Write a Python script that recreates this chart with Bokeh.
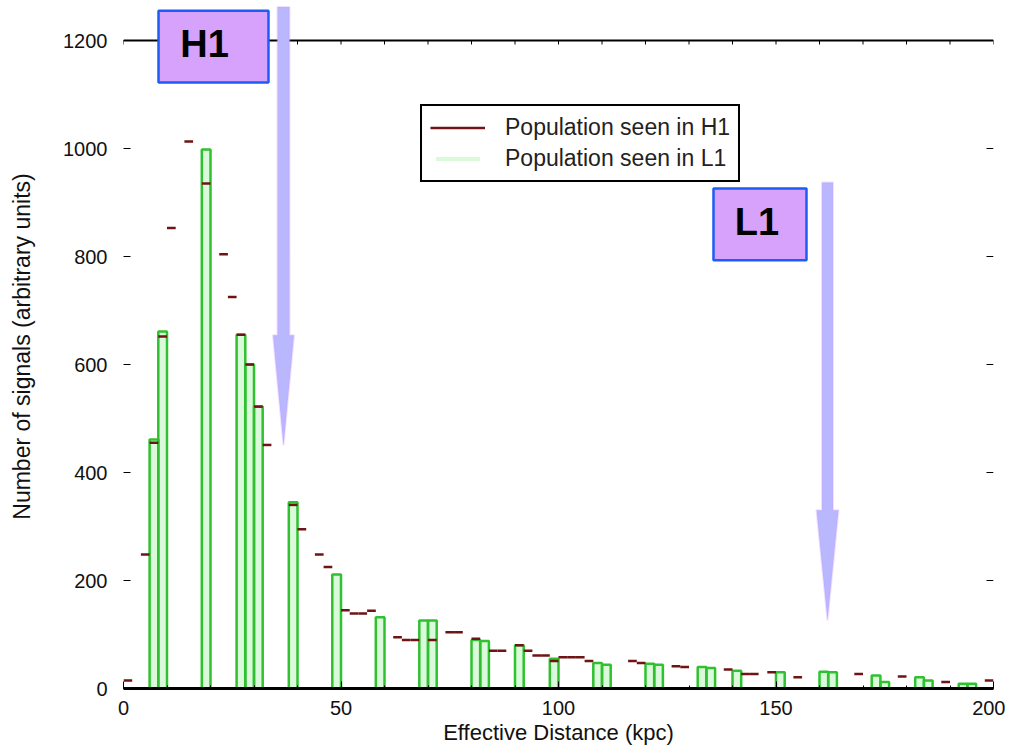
from bokeh.plotting import figure
from bokeh.models import (Range1d, FixedTicker, Legend, LegendItem, Span,
                          Label, BoxAnnotation, PolyAnnotation, ColumnDataSource)
from bokeh.embed import file_html
from bokeh.resources import INLINE

# ---------------- data ----------------
BIN_WIDTH = 2.0  # kpc

# L1 population (green bars): bin left edge (kpc) and count
l1_bin_left = [6, 8, 18, 26, 28, 30, 38, 48, 58, 68, 70, 80, 82, 90, 98,
               108, 110, 120, 122, 132, 134, 140, 150, 160, 162, 172, 174,
               182, 184, 192, 194]
l1_counts = [461, 661, 998, 655, 600, 522, 345, 211, 132, 126, 126, 90, 88, 80, 55,
             47, 44, 46, 44, 40, 38, 33, 30, 31, 30, 24, 12,
             21, 15, 9, 9]

# H1 population (dark red step tops): bin left edge (kpc) and count
h1_bin_left = [0, 4, 6, 8, 10, 14, 18, 22, 24, 26, 28, 30, 32, 38, 40, 44, 46,
               50, 52, 54, 56, 62, 64, 66, 70, 74, 76, 80, 84, 86, 90, 92, 94,
               96, 98, 100, 102, 104, 106, 116, 118, 126, 128, 138, 142, 144,
               148, 154, 168, 178, 188, 198]
h1_counts = [15, 248, 455, 652, 853, 1013, 935, 804, 725, 655, 600, 522, 451, 340, 295, 248, 225,
             145, 139, 139, 144, 95, 90, 90, 90, 104, 104, 92, 70, 70, 80, 70, 61,
             61, 51, 58, 58, 58, 51, 51, 47, 41, 40, 35, 27, 27,
             30, 21, 27, 22, 12, 15]

x_ticks = [0, 50, 100, 150, 200]
x_minor_ticks = [0, 10, 20, 30, 40, 50, 60, 70, 80, 90, 100, 110, 120, 130, 140,
                 150, 160, 170, 180, 190, 200]
y_ticks = [0, 200, 400, 600, 800, 1000, 1200]
legend_labels = ["Population seen in H1", "Population seen in L1"]
x_label = "Effective Distance (kpc)"
y_label = "Number of signals (arbitrary units)"
callouts = ["H1", "L1"]

# ---------------- styling / placement ----------------
FONT = "Liberation Sans"
GREEN = "#2fc12f"
GREEN_FILL = "#d2f7d2"
H1_COLOR = "#6e1414"
BOX_FILL = "#d7a2fc"
BOX_LINE = "#1d5cf5"
ARROW_FILL = "#b9b8ff"
ARROW_LINE = "#d29cff"
X_MAX, Y_TOP = 200, 1200
PX_PER_X, PX_PER_Y = 4.35, 0.54      # screen pixels per data unit
FRAME_H = 684                         # frame height in pixels

l1_src = ColumnDataSource(dict(
    left=l1_bin_left,
    right=[b + BIN_WIDTH for b in l1_bin_left],
    top=l1_counts,
    bottom=[0] * len(l1_counts),
))
h1_src = ColumnDataSource(dict(
    x0=h1_bin_left,
    x1=[b + BIN_WIDTH for b in h1_bin_left],
    y=h1_counts,
))

p = figure(width=1005, height=750,
           x_range=Range1d(0, X_MAX), y_range=Range1d(0, FRAME_H / PX_PER_Y),
           output_backend="svg", toolbar_location=None,
           min_border_left=123, min_border_right=12,
           min_border_top=4, min_border_bottom=62,
           x_axis_label=x_label, y_axis_label=y_label)
p.outline_line_color = None
p.grid.visible = False
p.background_fill_color = "white"
p.border_fill_color = "white"

# bottom axis
xa = p.xaxis[0]
xa.ticker = FixedTicker(ticks=x_ticks, minor_ticks=x_minor_ticks)
xa.axis_line_color = "black"
xa.axis_line_width = 3
xa.major_tick_in = 7
xa.major_tick_out = 0
xa.minor_tick_in = 3
xa.minor_tick_out = 0
xa.major_tick_line_color = "black"
xa.minor_tick_line_color = "black"
xa.major_label_standoff = 12
xa.major_label_text_font = FONT
xa.major_label_text_font_size = "20px"
xa.major_label_text_color = "#111111"
xa.axis_label_standoff = 2
xa.axis_label_text_font = FONT
xa.axis_label_text_font_size = "22px"
xa.axis_label_text_font_style = "normal"
xa.axis_label_text_color = "#111111"

# left axis
ya = p.yaxis[0]
ya.ticker = FixedTicker(ticks=y_ticks, minor_ticks=[])
ya.axis_line_color = None
ya.major_tick_in = 7
ya.major_tick_out = 0
ya.major_tick_line_color = "black"
ya.minor_tick_line_color = None
ya.major_label_standoff = 16
ya.major_label_text_font = FONT
ya.major_label_text_font_size = "20px"
ya.major_label_text_color = "#111111"
ya.axis_label_standoff = 25
ya.axis_label_text_font = FONT
ya.axis_label_text_font_size = "23px"
ya.axis_label_text_font_style = "normal"
ya.axis_label_text_color = "#111111"

# top frame line at 1200 with small ticks, right-side ticks
p.add_layout(Span(location=Y_TOP, dimension="width", line_color="black", line_width=2))
p.segment(x0=x_minor_ticks, x1=x_minor_ticks, y0=[Y_TOP] * len(x_minor_ticks),
          y1=[Y_TOP - 4 / PX_PER_Y] * len(x_minor_ticks), line_color="black", line_width=1)
p.segment(x0=[X_MAX - 7 / PX_PER_X] * len(y_ticks), x1=[X_MAX] * len(y_ticks),
          y0=y_ticks, y1=y_ticks, line_color="black", line_width=1)

# glyphs: L1 fill (used for legend sample), L1 outlines, H1 step tops
r_l1_fill = p.quad(left="left", right="right", top="top", bottom="bottom", source=l1_src,
                   fill_color=GREEN_FILL, fill_alpha=0.8, line_color=None)
p.quad(left="left", right="right", top="top", bottom="bottom", source=l1_src,
       fill_color=None, line_color=GREEN, line_width=2.5)
r_h1 = p.segment(x0="x0", x1="x1", y0="y", y1="y", source=h1_src,
                 line_color=H1_COLOR, line_width=2.5)

legend = Legend(items=[LegendItem(label=legend_labels[0], renderers=[r_h1]),
                       LegendItem(label=legend_labels[1], renderers=[r_l1_fill])],
                location=(297, 506), glyph_width=55, glyph_height=5,
                label_height=25, label_standoff=20, padding=8, spacing=4, margin=0,
                border_line_color="black", border_line_width=2, border_line_alpha=1,
                background_fill_color="white", background_fill_alpha=1,
                label_text_font=FONT, label_text_font_size="23px",
                label_text_color="#222222")
p.add_layout(legend)


def arrow(xc, y_top, y_head, y_tip, shaft_half, head_half):
    xs = [xc - shaft_half, xc + shaft_half, xc + shaft_half, xc + head_half,
          xc, xc - head_half, xc - shaft_half]
    ys = [y_top, y_top, y_head, y_head, y_tip, y_head, y_head]
    return PolyAnnotation(xs=xs, ys=ys, fill_color=ARROW_FILL, fill_alpha=1,
                          line_color=ARROW_LINE, line_width=2)


p.add_layout(arrow(36.78, 1262, 654, 450, 1.38, 2.41))
p.add_layout(arrow(161.84, 937, 330, 126, 1.26, 2.53))

for (lft, rgt, bot, top, tx, ty, txt) in [
        (8.05, 33.33, 1122, 1255, 18.62, 1193, callouts[0]),
        (135.63, 157.01, 793, 926, 145.6, 863, callouts[1])]:
    p.add_layout(BoxAnnotation(left=lft, right=rgt, bottom=bot, top=top,
                               fill_color=BOX_FILL, fill_alpha=1,
                               line_color=BOX_LINE, line_width=2.5, line_alpha=1))
    p.add_layout(Label(x=tx, y=ty, text=txt, text_font=FONT,
                       text_font_size="38px", text_font_style="bold",
                       text_color="black", text_align="center",
                       text_baseline="middle"))

open("out.html", "w").write(file_html(p, INLINE))
